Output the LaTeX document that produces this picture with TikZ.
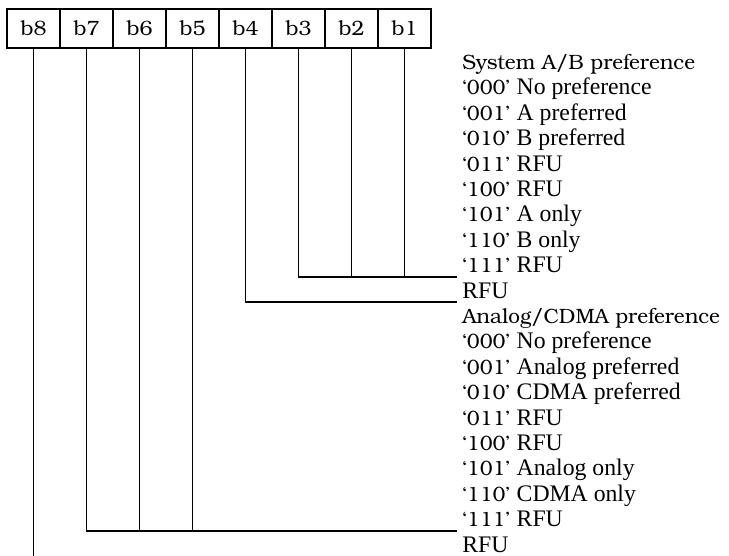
\documentclass[tikz,border=0pt]{standalone}
\usepackage{tikz}
\usetikzlibrary{positioning, calc}
\usepackage{fontspec}
\newfontfamily\bookfont{TeX Gyre Bonum}
\newfontfamily\timesfont{Liberation Serif}
\newcommand{\codeEntry}[2]{‘#1’ {\timesfont\fontsize{13.5}{14}\selectfont #2}}
\tikzset{
    bitBox/.style={
        draw=black, line width=1.1pt, minimum width=1.06cm, minimum height=0.78cm, inner sep=0pt, outer sep=0pt, font=\bookfont\fontsize{11.8}{14}\selectfont
    },
    fieldLine/.style={
        anchor=base west, inner sep=0pt, font=\bookfont\fontsize{11.8}{14}\selectfont
    },
    rfuLine/.style={
        fieldLine, font=\timesfont\fontsize{13.5}{14}\selectfont
    },
    bitWire/.style={
        draw=black, line width=1.1pt
    }
}

\begin{document}
\begin{tikzpicture}
    \useasboundingbox (0,0) rectangle (14.58,-11.12);

    % ── BIT BOXES
    \node[bitBox] (bEight) at (0.67,-0.57) {b8};
    \node[bitBox, right=0pt of bEight] (bSeven) {b7};
    \node[bitBox, right=0pt of bSeven] (bSix) {b6};
    \node[bitBox, right=0pt of bSix] (bFive) {b5};
    \node[bitBox, right=0pt of bFive] (bFour) {b4};
    \node[bitBox, right=0pt of bFour] (bThree) {b3};
    \node[bitBox, right=0pt of bThree] (bTwo) {b2};
    \node[bitBox, right=0pt of bTwo] (bOne) {b1};

    % ── SYSTEM A/B FIELD (b3..b1)
    \node[fieldLine] (sysTitle) at (9.24,-1.39) {System A/B preference};
    \node[fieldLine] (sysNone) at (9.24,-1.898) {\codeEntry{000}{No preference}};
    \node[fieldLine] (sysApref) at (9.24,-2.406) {\codeEntry{001}{A preferred}};
    \node[fieldLine] (sysBpref) at (9.24,-2.914) {\codeEntry{010}{B preferred}};
    \node[fieldLine] (sysRfuA) at (9.24,-3.422) {\codeEntry{011}{RFU}};
    \node[fieldLine] (sysRfuB) at (9.24,-3.93) {\codeEntry{100}{RFU}};
    \node[fieldLine] (sysAonly) at (9.24,-4.438) {\codeEntry{101}{A only}};
    \node[fieldLine] (sysBonly) at (9.24,-4.946) {\codeEntry{110}{B only}};
    \node[fieldLine] (sysRfuC) at (9.24,-5.454) {\codeEntry{111}{RFU}};

    % ── b4
    \node[rfuLine] (bitFourRfu) at (9.24,-5.962) {RFU};

    % ── ANALOG/CDMA FIELD (b7..b5)
    \node[fieldLine] (anaTitle) at (9.24,-6.47) {Analog/CDMA preference};
    \node[fieldLine] (anaNone) at (9.24,-6.978) {\codeEntry{000}{No preference}};
    \node[fieldLine] (anaApref) at (9.24,-7.486) {\codeEntry{001}{Analog preferred}};
    \node[fieldLine] (anaCpref) at (9.24,-7.994) {\codeEntry{010}{CDMA preferred}};
    \node[fieldLine] (anaRfuA) at (9.24,-8.502) {\codeEntry{011}{RFU}};
    \node[fieldLine] (anaRfuB) at (9.24,-9.01) {\codeEntry{100}{RFU}};
    \node[fieldLine] (anaAonly) at (9.24,-9.518) {\codeEntry{101}{Analog only}};
    \node[fieldLine] (anaConly) at (9.24,-10.026) {\codeEntry{110}{CDMA only}};
    \node[fieldLine] (anaRfuC) at (9.24,-10.534) {\codeEntry{111}{RFU}};

    % ── b8
    \node[rfuLine] (bitEightRfu) at (9.24,-11.042) {RFU};

    % Join points left of the text
    \coordinate (sysJoin) at ([shift={(-0.1,-0.08)}]sysRfuC.base west);
    \coordinate (fourJoin) at ([shift={(-0.1,-0.08)}]bitFourRfu.base west);
    \coordinate (anaJoin) at ([shift={(-0.1,-0.08)}]anaRfuC.base west);
    \coordinate (eightJoin) at ([shift={(-0.1,-0.08)}]bitEightRfu.base west);

    % Bit wires
    \draw[bitWire] (bThree.south) |- (sysJoin);
    \draw[bitWire] (bTwo.south) -- (bTwo.south |- sysJoin);
    \draw[bitWire] (bOne.south) -- (bOne.south |- sysJoin);
    \draw[bitWire] (bFour.south) |- (fourJoin);
    \draw[bitWire] (bSeven.south) |- (anaJoin);
    \draw[bitWire] (bSix.south) -- (bSix.south |- anaJoin);
    \draw[bitWire] (bFive.south) -- (bFive.south |- anaJoin);
    \draw[bitWire] (bEight.south) -- (bEight.south |- eightJoin);
\end{tikzpicture}
\end{document}
